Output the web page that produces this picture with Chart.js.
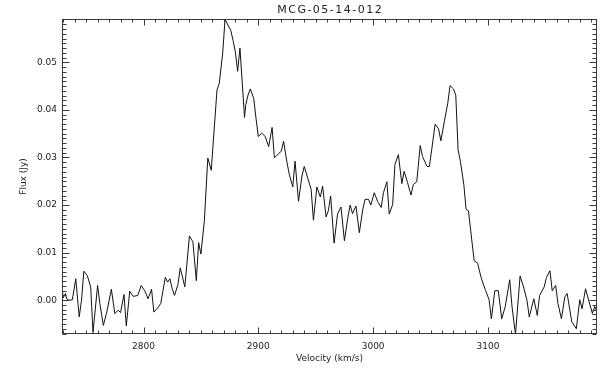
<!DOCTYPE html>
<html>
<head>
<meta charset="utf-8">
<script src="https://cdn.jsdelivr.net/npm/chart.js@4.4.1/dist/chart.umd.min.js"></script>
<style>
  html, body { margin: 0; padding: 0; background: #fff; }
  #wrap { width: 610px; height: 372px; }
</style>
</head>
<body>
<div id="wrap"><canvas id="c" width="610" height="372"></canvas></div>
<script>
// HI spectrum of MCG-05-14-012
const titleText = 'MCG-05-14-012';

// channel velocities (km/s)
const velocity = [
  2729, 2730, 2732, 2733, 2735, 2738, 2741, 2744, 2746, 2748, 2751, 2754, 2756, 2760, 2762,
  2765, 2768, 2772, 2775, 2778, 2780, 2783, 2785, 2788, 2791, 2795, 2798, 2801, 2804, 2807,
  2809, 2813, 2815, 2819, 2821, 2823, 2825, 2827, 2830, 2832, 2836, 2840, 2843, 2846, 2848,
  2850, 2853, 2856, 2859, 2864, 2866, 2869, 2871, 2873, 2876, 2878, 2880, 2882, 2884, 2888,
  2889, 2891, 2893, 2896, 2898, 2900, 2903, 2906, 2909, 2912, 2914, 2918, 2920, 2922, 2925,
  2927, 2930, 2932, 2935, 2938, 2940, 2943, 2946, 2948, 2951, 2954, 2956, 2959, 2961, 2963,
  2966, 2969, 2972, 2975, 2978, 2980, 2982, 2985, 2988, 2991, 2993, 2996, 2998, 3001, 3004,
  3007, 3009, 3012, 3014, 3017, 3019, 3022, 3025, 3027, 3030, 3033, 3035, 3038, 3041, 3043,
  3047, 3049, 3051, 3054, 3057, 3059, 3062, 3065, 3067, 3070, 3072, 3074, 3076, 3079, 3081,
  3083, 3085, 3088, 3091, 3094, 3098, 3101, 3103, 3106, 3109, 3112, 3115, 3119, 3121, 3124,
  3128, 3131, 3134, 3136, 3140, 3143, 3145, 3149, 3151, 3154, 3156, 3159, 3161, 3164, 3167,
  3169, 3173, 3177, 3180, 3182, 3185, 3188, 3191, 3193, 3195
];

// flux density per channel (Jy)
const flux = [
  0.0030, 0.0005, 0.0014, 0.0003, 0.0000, 0.0001, 0.0045, -0.0035, 0.0000, 0.0061, 0.0052, 0.0028, -0.0068, 0.0031, -0.0007,
  -0.0053, -0.0025, 0.0023, -0.0028, -0.0021, -0.0026, 0.0012, -0.0054, 0.0019, 0.0008, 0.0010, 0.0031, 0.0020, 0.0003, 0.0023,
  -0.0025, -0.0014, -0.0007, 0.0048, 0.0038, 0.0045, 0.0024, 0.0010, 0.0033, 0.0068, 0.0028, 0.0135, 0.0123, 0.0041, 0.0121,
  0.0097, 0.0167, 0.0299, 0.0273, 0.0442, 0.0456, 0.0520, 0.0590, 0.0581, 0.0567, 0.0546, 0.0522, 0.0481, 0.0530, 0.0384,
  0.0410, 0.0431, 0.0444, 0.0424, 0.0382, 0.0344, 0.0351, 0.0344, 0.0323, 0.0363, 0.0299, 0.0309, 0.0313, 0.0334, 0.0289,
  0.0264, 0.0238, 0.0292, 0.0208, 0.0261, 0.0281, 0.0257, 0.0233, 0.0168, 0.0238, 0.0217, 0.0240, 0.0175, 0.0188, 0.0219,
  0.0120, 0.0181, 0.0196, 0.0125, 0.0174, 0.0200, 0.0182, 0.0198, 0.0142, 0.0191, 0.0212, 0.0212, 0.0200, 0.0226, 0.0207,
  0.0195, 0.0226, 0.0249, 0.0181, 0.0201, 0.0285, 0.0306, 0.0245, 0.0271, 0.0247, 0.0221, 0.0243, 0.0249, 0.0325, 0.0302,
  0.0281, 0.0281, 0.0316, 0.0370, 0.0360, 0.0335, 0.0375, 0.0414, 0.0451, 0.0444, 0.0431, 0.0316, 0.0292, 0.0243, 0.0191,
  0.0188, 0.0146, 0.0083, 0.0078, 0.0048, 0.0020, 0.0001, -0.0039, 0.0020, 0.0020, -0.0039, -0.0014, 0.0043, -0.0014, -0.0072,
  0.0051, 0.0028, 0.0000, -0.0035, 0.0003, -0.0032, 0.0010, 0.0028, 0.0048, 0.0062, 0.0020, 0.0031, -0.0007, -0.0039, 0.0007,
  0.0014, -0.0045, -0.0060, 0.0001, -0.0018, 0.0024, -0.0002, -0.0028, -0.0013, -0.0024
];

const xTickValues = [2800, 2900, 3000, 3100];
const yTickValues = [0.00, 0.01, 0.02, 0.03, 0.04, 0.05];

const points = velocity.map((v, i) => ({ x: v, y: flux[i] }));

const inkColor = '#222';
const fontFamily = '"DejaVu Sans", sans-serif';

// frame box with inward major/minor ticks on all four sides, plus the title
const framePlugin = {
  id: 'frame',
  afterDraw(chart) {
    const { ctx, chartArea: a, scales: { x, y } } = chart;
    const L = Math.round(a.left) + 0.5, R = Math.round(a.right) - 0.5;
    const T = Math.round(a.top) + 0.5, B = Math.round(a.bottom) - 0.5;
    ctx.save();
    ctx.strokeStyle = '#3a3a3a';
    ctx.lineWidth = 1;
    ctx.strokeRect(L, T, R - L, B - T);
    ctx.beginPath();
    // x ticks: minor every 10 km/s, major at labelled values
    for (let v = Math.ceil(x.min / 10) * 10; v <= x.max; v += 10) {
      const px = Math.round(x.getPixelForValue(v)) + 0.5;
      const len = xTickValues.includes(v) ? 6 : 3;
      ctx.moveTo(px, B); ctx.lineTo(px, B - len);
      ctx.moveTo(px, T); ctx.lineTo(px, T + len);
    }
    // y ticks: minor every 0.001 Jy, major every 0.01 Jy
    for (let k = Math.ceil(y.min * 1000); k <= Math.floor(y.max * 1000); k++) {
      const py = Math.round(y.getPixelForValue(k / 1000)) + 0.5;
      const len = (k % 10 === 0) ? 7 : 4;
      ctx.moveTo(L, py); ctx.lineTo(L + len, py);
      ctx.moveTo(R, py); ctx.lineTo(R - len, py);
    }
    ctx.stroke();

    ctx.fillStyle = inkColor;
    ctx.font = '11px ' + fontFamily;
    ctx.textAlign = 'center';
    ctx.textBaseline = 'middle';
    if ('letterSpacing' in ctx) ctx.letterSpacing = '1.5px';
    ctx.fillText(titleText, (a.left + a.right) / 2 + 0.75, 10);
    ctx.restore();
  }
};

Chart.defaults.font.family = fontFamily;
Chart.defaults.font.size = 9;
Chart.defaults.color = inkColor;

new Chart(document.getElementById('c'), {
  type: 'line',
  data: {
    datasets: [{
      data: points,
      borderColor: '#111',
      borderWidth: 1,
      pointRadius: 0,
      fill: false,
      tension: 0
    }]
  },
  options: {
    responsive: false,
    animation: false,
    events: [],
    layout: { padding: { top: 19, right: 13, bottom: 0, left: 0 } },
    plugins: {
      legend: { display: false },
      tooltip: { enabled: false },
      title: { display: false }
    },
    scales: {
      x: {
        type: 'linear',
        min: 2729,
        max: 3195,
        afterBuildTicks: s => { s.ticks = xTickValues.map(v => ({ value: v })); },
        afterFit: s => { s.height = 38; },
        grid: { display: false, drawTicks: false },
        border: { display: false },
        ticks: { padding: 7, maxRotation: 0, autoSkip: false, callback: v => String(v) },
        title: { display: true, text: 'Velocity (km/s)', padding: { top: 0, bottom: 7.5 } }
      },
      y: {
        type: 'linear',
        min: -0.0071,
        max: 0.0591,
        afterBuildTicks: s => { s.ticks = yTickValues.map(v => ({ value: v })); },
        afterFit: s => { s.width = 62; },
        grid: { display: false, drawTicks: false },
        border: { display: false },
        ticks: { padding: 5, callback: v => v.toFixed(2) },
        title: { display: true, text: 'Flux (Jy)', padding: { top: 18, bottom: 0 } }
      }
    }
  },
  plugins: [framePlugin]
});
</script>
</body>
</html>
